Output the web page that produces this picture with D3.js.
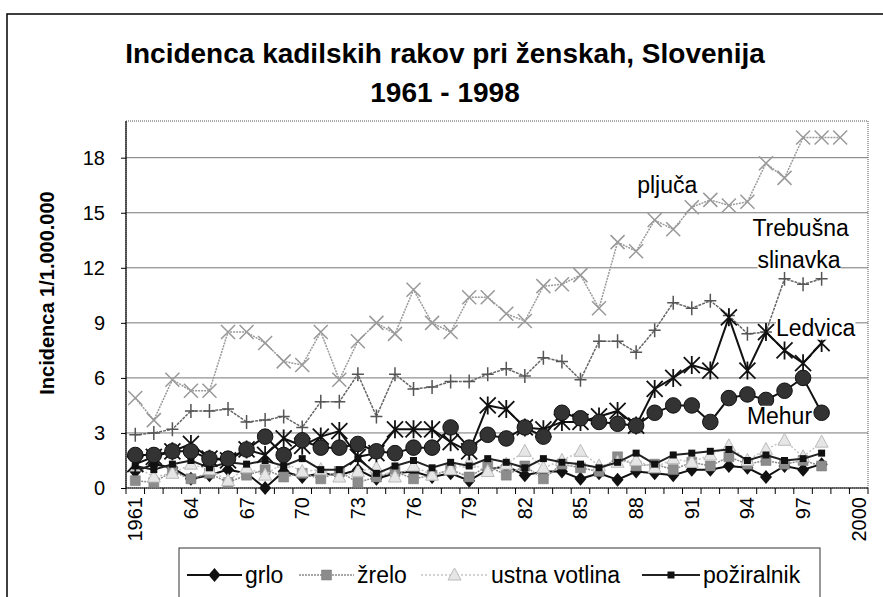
<!DOCTYPE html>
<html>
<head>
<meta charset="UTF-8">
<style>
  body { margin: 0; background: #fff; }
  svg { display: block; font-family: "Liberation Sans", Arial, sans-serif; }
</style>
</head>
<body>
<svg id="chart" width="883" height="597"></svg>
<script src="https://d3js.org/d3.v7.min.js"></script>
<script>
// categories (x axis)
const years = [1961, 1962, 1963, 1964, 1965, 1966, 1967, 1968, 1969, 1970,
               1971, 1972, 1973, 1974, 1975, 1976, 1977, 1978, 1979, 1980,
               1981, 1982, 1983, 1984, 1985, 1986, 1987, 1988, 1989, 1990,
               1991, 1992, 1993, 1994, 1995, 1996, 1997, 1998, 1999, 2000];
const labelYears = [1961, 1964, 1967, 1970, 1973, 1976, 1979, 1982, 1985, 1988, 1991, 1994, 1997, 2000];
const labelText  = ["1961", "64", "67", "70", "73", "76", "79", "82", "85", "88", "91", "94", "97", "2000"];
const yTicks = [0, 3, 6, 9, 12, 15, 18];

// series values, 1961 onwards
const grlo       = [0.9, 1.3, 1.1, 0.5, 0.7, 1.0, 0.8, 0.0, 0.9, 0.6, 0.8, 0.7, 1.0, 0.5, 0.8, 0.9, 0.6, 0.8, 0.4, 1.0,
                    1.2, 0.7, 0.9, 0.9, 0.5, 0.8, 0.45, 0.9, 0.8, 0.7, 1.0, 1.0, 1.2, 1.1, 0.6, 1.2, 1.0, 1.3];
const zrelo      = [0.4, 0.3, 0.9, 0.5, 0.8, 0.3, 0.7, 1.0, 0.6, 0.8, 0.5, 0.9, 0.3, 0.6, 0.9, 0.5, 0.7, 1.0, 0.6, 1.2,
                    0.7, 1.2, 0.5, 1.3, 1.1, 0.9, 1.7, 1.2, 1.3, 1.0, 1.4, 1.2, 1.7, 1.3, 1.5, 1.3, 1.5, 1.2];
const ustna      = [1.2, 0.6, 0.8, 1.3, 1.0, 0.4, 1.1, 0.7, 1.4, 0.9, 1.0, 0.6, 0.9, 1.1, 0.6, 1.2, 0.7, 1.0, 1.4, 0.9,
                    1.3, 2.0, 1.1, 1.5, 2.0, 1.2, 1.4, 1.5, 1.1, 1.6, 1.4, 1.8, 2.3, 1.5, 2.1, 2.6, 1.7, 2.5];
const poziralnik = [1.2, 1.0, 1.3, 1.5, 1.1, 1.4, 1.3, 1.5, 1.2, 1.6, 1.0, 1.0, 1.6, 0.8, 1.2, 1.5, 1.1, 1.4, 1.2, 1.6,
                    1.4, 1.1, 1.6, 1.4, 1.3, 1.1, 1.4, 1.9, 1.3, 1.8, 1.9, 2.0, 2.1, 1.5, 1.8, 1.5, 1.6, 1.9];
const pljuca     = [4.9, 3.7, 5.9, 5.3, 5.3, 8.5, 8.5, 7.9, 6.9, 6.7, 8.5, 5.9, 8.0, 9.0, 8.4, 10.8, 9.0, 8.5, 10.4, 10.4,
                    9.5, 9.1, 11.0, 11.1, 11.6, 9.8, 13.4, 12.9, 14.6, 14.1, 15.3, 15.7, 15.4, 15.6, 17.7, 16.9, 19.1, 19.1, 19.1];
const trebusna   = [2.9, 3.0, 3.2, 4.2, 4.2, 4.3, 3.6, 3.7, 3.9, 3.3, 4.7, 4.7, 6.2, 3.9, 6.2, 5.4, 5.5, 5.8, 5.8, 6.2,
                    6.5, 6.1, 7.1, 6.9, 5.9, 8.0, 8.0, 7.4, 8.6, 10.1, 9.8, 10.2, 9.4, 8.4, 8.5, 11.4, 11.1, 11.4];
const ledvica    = [1.3, 1.7, 2.0, 2.4, 1.6, 1.5, 2.1, 1.8, 2.7, 2.3, 2.8, 3.1, 1.7, 1.9, 3.2, 3.2, 3.2, 2.5, 2.0, 4.5,
                    4.3, 3.3, 3.2, 3.6, 3.6, 3.9, 4.2, 3.4, 5.4, 6.0, 6.7, 6.4, 9.3, 6.4, 8.5, 7.5, 6.8, 7.9];
const mehur      = [1.8, 1.8, 2.0, 2.0, 1.6, 1.6, 2.1, 2.8, 1.8, 2.6, 2.2, 2.2, 2.4, 2.0, 1.9, 2.2, 2.2, 3.3, 2.2, 2.9,
                    2.7, 3.3, 2.8, 4.1, 3.8, 3.6, 3.5, 3.4, 4.1, 4.5, 4.5, 3.6, 4.9, 5.1, 4.8, 5.3, 6.0, 4.1];

const series = [
  { name: "grlo",          values: grlo,       line: "#111", width: 2,   dash: null,  marker: "diamond",  legend: true },
  { name: "žrelo",         values: zrelo,      line: "#8a8a8a", width: 1.5, dash: "2,1", marker: "square", legend: true },
  { name: "ustna votlina", values: ustna,      line: "#c4c4c4", width: 1.5, dash: "2,2", marker: "triangle", legend: true },
  { name: "požiralnik",    values: poziralnik, line: "#222", width: 2,   dash: null,  marker: "smallsquare", legend: true },
  { name: "pljuča",        values: pljuca,     line: "#9a9a9a", width: 1.5, dash: "2,1", marker: "x" },
  { name: "Trebušna slinavka", values: trebusna, line: "#666", width: 1.5, dash: "3,1", marker: "plus" },
  { name: "Ledvica",       values: ledvica,    line: "#111", width: 2,   dash: null,  marker: "asterisk" },
  { name: "Mehur",         values: mehur,      line: "#111", width: 2,   dash: null,  marker: "circle" }
];

const width = 883, height = 597;
const svg = d3.select("#chart");

// outer chart frame
svg.append("rect")
    .attr("x", 7).attr("y", 14)
    .attr("width", 900).attr("height", 620)
    .attr("fill", "none").attr("stroke", "#000").attr("stroke-width", 1.5);

// title
svg.append("text")
    .attr("x", 445).attr("y", 63)
    .attr("text-anchor", "middle")
    .attr("font-size", 28).attr("font-weight", "bold")
    .text("Incidenca kadilskih rakov pri ženskah, Slovenija");
svg.append("text")
    .attr("x", 445).attr("y", 102)
    .attr("text-anchor", "middle")
    .attr("font-size", 28).attr("font-weight", "bold")
    .text("1961 - 1998");

const x = d3.scaleBand().domain(years).range([126, 868]);
const y = d3.scaleLinear().domain([0, 20]).range([488, 121]);
const cx = yr => x(yr) + x.bandwidth() / 2;

// gridlines
svg.append("g").selectAll("line")
    .data(yTicks.filter(t => t > 0))
    .enter().append("line")
    .attr("x1", 126).attr("x2", 868)
    .attr("y1", d => y(d)).attr("y2", d => y(d))
    .attr("stroke", "#777").attr("stroke-width", 1);

// plot area border (dotted)
svg.append("rect")
    .attr("x", 126).attr("y", 121)
    .attr("width", 742).attr("height", 367)
    .attr("fill", "none").attr("stroke", "#555")
    .attr("stroke-width", 1).attr("stroke-dasharray", "1,1");

// y axis
const yAxis = svg.append("g")
    .attr("transform", "translate(126,0)")
    .call(d3.axisLeft(y).tickValues(yTicks).tickSize(5).tickPadding(16).tickSizeOuter(0));
yAxis.select(".domain").remove();
yAxis.selectAll("text").attr("font-size", 20).attr("font-family", "Liberation Sans, Arial, sans-serif").attr("fill", "#000");
svg.append("line").attr("x1", 126).attr("x2", 126).attr("y1", 121).attr("y2", 488)
    .attr("stroke", "#000").attr("stroke-width", 1.2);

// x axis
const xAxis = svg.append("g")
    .attr("transform", "translate(0,488)")
    .call(d3.axisBottom(x).tickValues(labelYears).tickSize(0)
        .tickFormat(d => labelText[labelYears.indexOf(d)]));
xAxis.select(".domain").remove();
xAxis.selectAll("text")
    .attr("transform", "rotate(-90)")
    .attr("text-anchor", "end")
    .attr("x", -9).attr("y", 0).attr("dy", "0.35em")
    .attr("font-size", 20).attr("font-family", "Liberation Sans, Arial, sans-serif").attr("fill", "#000");
svg.append("g").selectAll("line")
    .data(years)
    .enter().append("line")
    .attr("x1", d => x(d)).attr("x2", d => x(d))
    .attr("y1", 488).attr("y2", 494)
    .attr("stroke", "#000");
svg.append("line").attr("x1", 868).attr("x2", 868).attr("y1", 488).attr("y2", 494).attr("stroke", "#000");
svg.append("line").attr("x1", 126).attr("x2", 868).attr("y1", 488).attr("y2", 488)
    .attr("stroke", "#000").attr("stroke-width", 1.2);

// y axis title
svg.append("text")
    .attr("transform", "translate(54,293) rotate(-90)")
    .attr("text-anchor", "middle")
    .attr("font-size", 20).attr("font-weight", "bold")
    .text("Incidenca 1/1.000.000");

// marker shapes
function markerPath(type) {
  switch (type) {
    case "diamond": return "M0,-7L6,0L0,7L-6,0Z";
    case "square": return "M-5,-5H5V5H-5Z";
    case "smallsquare": return "M-3.5,-3.5H3.5V3.5H-3.5Z";
    case "triangle": return "M0,-7L6.5,5L-6.5,5Z";
    case "x": return "M-7,-7L7,7M7,-7L-7,7";
    case "plus": return "M0,-7V7M-6,0H6";
    case "asterisk": return "M0,-9V9M-8,-8L8,8M8,-8L-8,8";
    case "circle": return d3.symbol(d3.symbolCircle, 190)();
  }
}
function styleMarker(sel, s) {
  const stroked = ["x", "plus", "asterisk"].includes(s.marker);
  if (stroked) {
    sel.attr("fill", "none").attr("stroke", s.marker === "x" ? "#999" : (s.marker === "plus" ? "#555" : "#111"))
       .attr("stroke-width", s.marker === "asterisk" ? 1.8 : 1.5);
  } else if (s.marker === "triangle") {
    sel.attr("fill", "#e6e6e6").attr("stroke", "#bbb").attr("stroke-width", 1);
  } else if (s.marker === "square") {
    sel.attr("fill", "#8c8c8c").attr("stroke", "#777").attr("stroke-width", 0.5);
  } else if (s.marker === "circle") {
    sel.attr("fill", "#333").attr("stroke", "#111").attr("stroke-width", 1);
  } else {
    sel.attr("fill", "#111");
  }
}

const line = d3.line()
    .x((d, i) => cx(years[i]))
    .y(d => y(d));

series.forEach(s => {
  const g = svg.append("g");
  g.append("path")
      .attr("d", line(s.values))
      .attr("fill", "none")
      .attr("stroke", s.line)
      .attr("stroke-width", s.width)
      .attr("stroke-dasharray", s.dash);
  g.selectAll("path.m")
      .data(s.values)
      .enter().append("path")
      .attr("class", "m")
      .attr("d", markerPath(s.marker))
      .attr("transform", (d, i) => `translate(${cx(years[i])},${y(d)})`)
      .call(styleMarker, s);
});

// series labels on the chart
const labels = [
  { text: "pljuča",   year: 1988, dx: 1,  value: 16.1 },
  { text: "Trebušna", year: 1994, dx: 5,  value: 13.75 },
  { text: "slinavka", year: 1994, dx: 10, value: 12.0 },
  { text: "Ledvica",  year: 1995, dx: 10, value: 8.3 },
  { text: "Mehur",    year: 1993, dx: 18, value: 3.5 }
];
labels.forEach(l => {
  const t = svg.append("text")
      .attr("x", cx(l.year) + l.dx).attr("y", y(l.value))
      .attr("font-size", 23)
      .text(l.text);
  const b = t.node().getBBox();
  svg.insert("rect", () => t.node())
      .attr("x", b.x).attr("y", b.y + 3).attr("width", b.width).attr("height", b.height - 4)
      .attr("fill", "#fff");
});

// legend
const legendItems = series.filter(s => s.legend);
const legend = svg.append("g");
legend.append("rect")
    .attr("x", 179).attr("y", 548).attr("width", 641).attr("height", 80)
    .attr("fill", "#fff").attr("stroke", "#333").attr("stroke-width", 1);
const legendX = [187, 299, 421, 642];
const legendLen = [55, 55, 67, 58];
legendItems.forEach((s, i) => {
  const g = legend.append("g").attr("transform", `translate(${legendX[i]},575)`);
  g.append("line").attr("x1", 0).attr("x2", legendLen[i]).attr("y1", 0).attr("y2", 0)
      .attr("stroke", s.line).attr("stroke-width", s.width).attr("stroke-dasharray", s.dash);
  g.append("path").attr("d", markerPath(s.marker))
      .attr("transform", `translate(${legendLen[i] / 2},0)`)
      .call(styleMarker, s);
  g.append("text").attr("x", legendLen[i] + 3).attr("y", 0).attr("dy", "0.35em")
      .attr("font-size", 23).text(s.name);
});
</script>
</body>
</html>
